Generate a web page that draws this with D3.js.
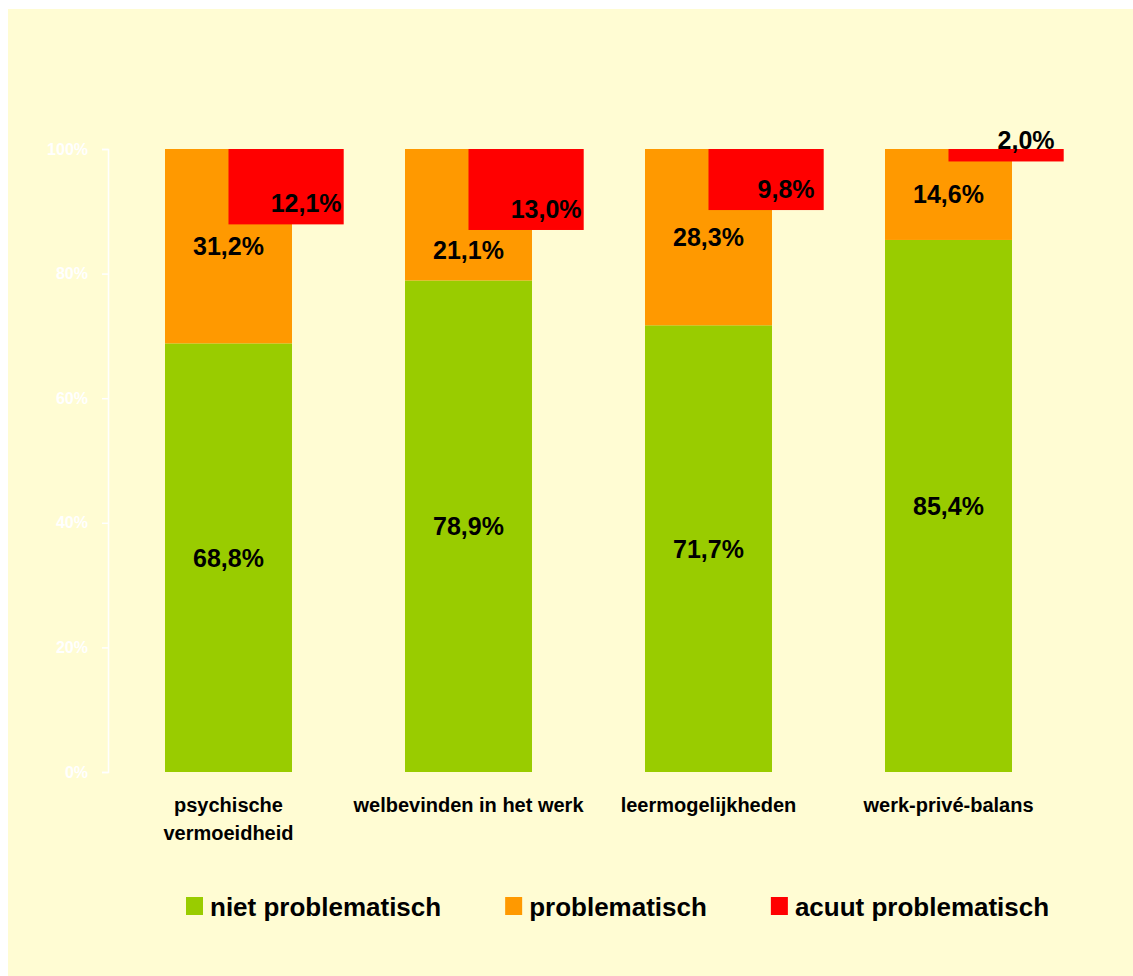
<!DOCTYPE html>
<html>
<head>
<meta charset="utf-8">
<script src="https://cdn.jsdelivr.net/npm/d3@7"></script>
<style>
  html, body { margin: 0; padding: 0; background: #ffffff; }
  svg { display: block; }
  text { font-family: "Liberation Sans", Arial, Helvetica, sans-serif; font-weight: bold; }
</style>
</head>
<body>
<svg id="chart" width="1133" height="976"></svg>
<script>
// Werkbeleving per thema (percentages)
const categories = ["psychische vermoeidheid", "welbevinden in het werk", "leermogelijkheden", "werk-privé-balans"];
const nietProblematisch = [68.8, 78.9, 71.7, 85.4];
const problematisch = [31.2, 21.1, 28.3, 14.6];
const acuutProblematisch = [12.1, 13.0, 9.8, 2.0];
const seriesNames = ["niet problematisch", "problematisch", "acuut problematisch"];
const tickValues = [0, 20, 40, 60, 80, 100];

const colors = ["#99CC00", "#FF9900", "#FF0000"];
const W = 1133, H = 976;
const svg = d3.select("#chart");

// panel background
svg.append("rect").attr("x", 8).attr("y", 9).attr("width", W - 8).attr("height", H - 9)
  .attr("fill", "#FFFCD3");

const x = d3.scaleBand().domain(categories).range([108.5, 1068.5])
  .paddingInner(0.4708).paddingOuter(0.2354);
const y = d3.scaleLinear().domain([0, 100]).range([772, 149]);

const fmt = d3.formatLocale({ decimal: ",", thousands: ".", grouping: [3], currency: ["€", ""] }).format(".1f");
const pct = v => fmt(v) + "%";

const data = categories.map((c, i) => ({
  cat: c, green: nietProblematisch[i], orange: problematisch[i], red: acuutProblematisch[i]
}));

// y axis
const yAxis = d3.axisLeft(y).tickValues(tickValues).tickFormat(d => d + "%")
  .tickSize(6).tickPadding(14);
const ag = svg.append("g").attr("transform", "translate(108,0)").call(yAxis);
ag.select(".domain").attr("stroke", "#ffffff").attr("stroke-width", 1.5);
ag.selectAll(".tick line").attr("stroke", "#ffffff").attr("stroke-width", 1.5);
ag.selectAll(".tick text").attr("fill", "#ffffff").attr("font-size", 16)
  .attr("font-weight", "bold").attr("font-family", "Liberation Sans, Arial, sans-serif");

// stacked columns: niet problematisch + problematisch
const bars = svg.append("g");
bars.selectAll(".g").data(data).join("rect")
  .attr("x", d => x(d.cat)).attr("width", x.bandwidth())
  .attr("y", d => y(d.green)).attr("height", d => y(0) - y(d.green))
  .attr("fill", colors[0]);
bars.selectAll(".o").data(data).join("rect")
  .attr("x", d => x(d.cat)).attr("width", x.bandwidth())
  .attr("y", d => y(d.green + d.orange)).attr("height", d => y(d.green) - y(d.green + d.orange))
  .attr("fill", colors[1]);

// acuut problematisch hangs down from 100%, shifted right of the column
const redW = x.step() * 0.48;
const redX = d => x(d.cat) + x.bandwidth() / 2;
const redBottom = d => y(100) + (y(0) - y(d.red));
bars.selectAll(".r").data(data).join("rect")
  .attr("x", redX).attr("width", redW)
  .attr("y", y(100)).attr("height", d => y(0) - y(d.red))
  .attr("fill", colors[2]);

// value labels
const lab = svg.append("g").attr("font-size", 25).attr("fill", "#000").attr("text-anchor", "middle");
const cx = d => x(d.cat) + x.bandwidth() / 2;
lab.selectAll(".lg").data(data).join("text")
  .attr("x", cx).attr("y", d => (y(0) + y(d.green)) / 2 + 9)
  .text(d => pct(d.green));
lab.selectAll(".lo").data(data).join("text")
  .attr("x", cx)
  .attr("y", d => Math.max((y(d.green) + y(d.green + d.orange)) / 2, redBottom(d) + 20) + 9)
  .text(d => pct(d.orange));
lab.selectAll(".lr").data(data).join("text")
  .attr("x", d => redX(d) + redW / 2 + 20).attr("y", d => redBottom(d) - 12)
  .text(d => pct(d.red));

// category labels, wrapped to the band width
const catG = svg.append("g").attr("font-size", 20).attr("fill", "#000").attr("text-anchor", "middle");
categories.forEach(c => {
  const t = catG.append("text").attr("x", x(c) + x.bandwidth() / 2).attr("y", 812);
  const words = c.split(" ");
  let line = [], lineNo = 0;
  let ts = t.append("tspan").attr("x", x(c) + x.bandwidth() / 2).attr("dy", 0);
  words.forEach(w => {
    line.push(w);
    ts.text(line.join(" "));
    if (ts.node().getComputedTextLength() > x.step() - 2 && line.length > 1) {
      line.pop();
      ts.text(line.join(" "));
      line = [w];
      lineNo++;
      ts = t.append("tspan").attr("x", x(c) + x.bandwidth() / 2).attr("dy", 27.5).text(w);
    }
  });
});

// legend
const leg = svg.append("g");
let lx = 186;
seriesNames.forEach((name, i) => {
  leg.append("rect").attr("x", lx).attr("y", 897).attr("width", 17).attr("height", 18).attr("fill", colors[i]);
  const t = leg.append("text").attr("x", lx + 24).attr("y", 916).attr("font-size", 26).attr("fill", "#000").text(name);
  lx = lx + 24 + t.node().getComputedTextLength() + 64;
});
</script>
</body>
</html>
